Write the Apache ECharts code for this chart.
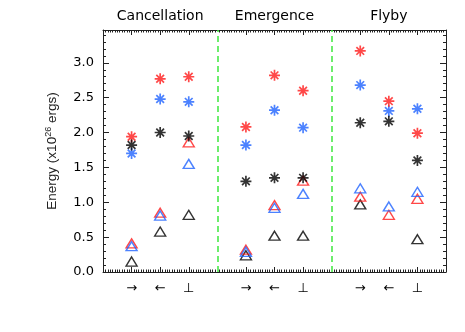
<!DOCTYPE html>
<html>
<head>
<meta charset="utf-8">
<script src="https://cdn.jsdelivr.net/npm/echarts@6/dist/echarts.min.js"></script>
<style>html,body{margin:0;padding:0;background:#fff;}#c{width:465px;height:332px;}</style>
</head>
<body>
<div id="c"></div>
<script>
// x positions of the nine measurements (3 groups x 3 directions)
const xPositions = [1, 2, 3, 5, 6, 7, 9, 10, 11];
const directionLabels = ['→', '←', '⊥', '→', '←', '⊥', '→', '←', '⊥'];
const groupNames = ['Cancellation', 'Emergence', 'Flyby'];
const groupCenters = [2, 6, 10];
const dividers = [4, 8];
const yTicks = [0, 0.5, 1.0, 1.5, 2.0, 2.5, 3.0];

// asterisk series
const starRed   = [1.94, 2.77, 2.80, 2.08, 2.82, 2.60, 3.17, 2.45, 1.99];
const starBlue  = [1.70, 2.48, 2.44, 1.82, 2.32, 2.07, 2.68, 2.31, 2.34];
const starBlack = [1.82, 2.00, 1.95, 1.30, 1.35, 1.35, 2.14, 2.16, 1.60];
// triangle series (black triangle at Flyby ← not visible in the picture)
const triRed    = [0.41, 0.85, 1.86, 0.32, 0.96, 1.31, 1.08, 0.82, 1.05];
const triBlue   = [0.37, 0.81, 1.55, 0.29, 0.92, 1.12, 1.20, 0.94, 1.15];
const triBlack  = [0.15, 0.58, 0.82, 0.24, 0.52, 0.52, 0.97, null, 0.47];

const RED = '#ff1a1a', BLUE = '#1f63ff', BLACK = '#000000', GREEN = '#3ee83e';
const AXIS = '#222';
const STAR = 'path://M0,5L10,5M5,0L5,10M1.5,1.5L8.5,8.5M8.5,1.5L1.5,8.5';

function pairs(vals) { return xPositions.map((x, i) => [x, vals[i]]).filter(p => p[1] !== null); }
function tri(name, vals, color) {
  return { name, type: 'scatter', xAxisIndex: 0, yAxisIndex: 0, data: pairs(vals),
    symbol: 'triangle', symbolSize: [11, 9],
    itemStyle: { color: 'rgba(0,0,0,0)', borderColor: color, borderWidth: 1.4 } };
}
function star(name, vals, color) {
  return { name, type: 'scatter', xAxisIndex: 0, yAxisIndex: 0, data: pairs(vals),
    symbol: STAR, symbolSize: 11,
    itemStyle: { color: 'rgba(0,0,0,0)', borderColor: color, borderWidth: 1.7 } };
}

const xBase = {
  type: 'value', min: 0, max: 12, interval: 1,
  axisLine: { show: true, onZero: false, lineStyle: { color: AXIS, width: 1 } },
  axisTick: { show: true, inside: true, length: 5, customValues: xPositions, lineStyle: { color: AXIS } },
  minorTick: { show: true, splitNumber: 12, length: 2.5, lineStyle: { color: AXIS } },
  splitLine: { show: false }, minorSplitLine: { show: false }
};
const yBase = {
  type: 'value', min: 0, max: 3.47, interval: 0.5,
  axisLine: { show: true, onZero: false, lineStyle: { color: AXIS, width: 1 } },
  axisTick: { show: true, inside: true, length: 6, lineStyle: { color: AXIS } },
  minorTick: { show: true, splitNumber: 5, length: 3, lineStyle: { color: AXIS } },
  splitLine: { show: false }, minorSplitLine: { show: false }
};

const option = {
  backgroundColor: '#fff',
  animation: false,
  grid: { left: 103, right: 19, top: 30, bottom: 60, containLabel: false },
  xAxis: [
    Object.assign({}, xBase, { position: 'bottom',
      axisLabel: { show: true, customValues: xPositions, margin: 10, color: '#000',
        fontFamily: 'DejaVu Sans', fontSize: 13,
        formatter: v => directionLabels[xPositions.indexOf(Math.round(v))] || '' } }),
    Object.assign({}, xBase, { position: 'top',
      axisLabel: { show: true, customValues: groupCenters, margin: 7, color: '#000',
        fontFamily: 'DejaVu Sans', fontSize: 14,
        formatter: v => groupNames[groupCenters.indexOf(Math.round(v))] || '' } })
  ],
  yAxis: [
    Object.assign({}, yBase, { position: 'left',
      name: 'Energy (x10{sup|26} ergs)', nameLocation: 'middle', nameGap: 43,
      nameTextStyle: { fontFamily: 'Liberation Sans', fontSize: 13.5, color: '#222',
        rich: { sup: { fontFamily: 'Liberation Sans', fontSize: 9, verticalAlign: 'top', lineHeight: 16, color: '#222' } } },
      axisLabel: { show: true, customValues: yTicks, margin: 9, color: '#000', fontFamily: 'DejaVu Sans', fontSize: 13,
        formatter: v => v.toFixed(1) } }),
    Object.assign({}, yBase, { position: 'right', axisLabel: { show: false } })
  ],
  series: [
    { type: 'scatter', data: [], xAxisIndex: 0, yAxisIndex: 0,
      markLine: { silent: true, symbol: 'none', label: { show: false },
        lineStyle: { color: GREEN, type: [6, 4], width: 1.5 },
        data: dividers.map(v => ({ xAxis: v })) } },
    tri('triBlack', triBlack, BLACK),
    tri('triRed', triRed, RED),
    tri('triBlue', triBlue, BLUE),
    star('starBlue', starBlue, BLUE),
    star('starRed', starRed, RED),
    star('starBlack', starBlack, BLACK)
  ]
};
const chart = echarts.init(document.getElementById('c'), null, { renderer: 'canvas' });
chart.setOption(option);
</script>
</body>
</html>
